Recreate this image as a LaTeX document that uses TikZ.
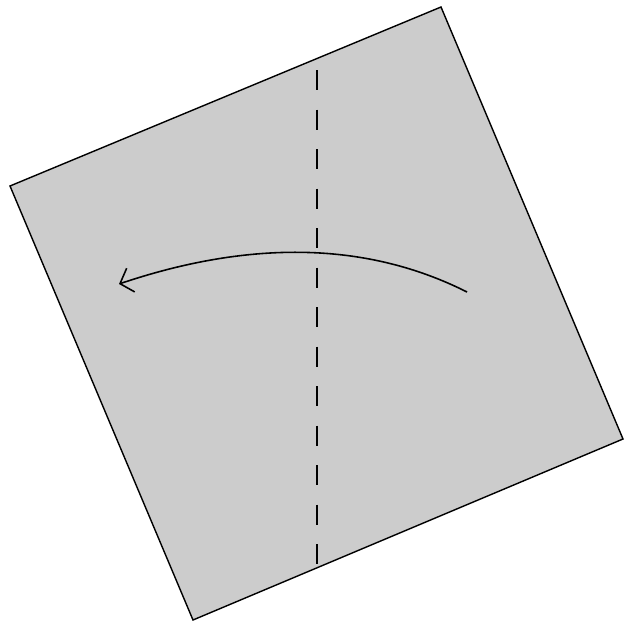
\documentclass[tikz,border=0pt]{standalone}
\usetikzlibrary{arrows.meta}
\definecolor{paper}{RGB}{204,204,204}
\begin{document}
\begin{tikzpicture}[
  x=0.04cm,y=-0.04cm,
  sheet/.style={draw,fill=paper,line width=1.6pt},
  fold/.style={line width=2.2pt,dash pattern=on 0.8cm off 0.78cm,dash phase=1.12cm},
  turn/.style={line width=1.8pt,-{Straight Barb[length=0.45cm,width=1cm]}}
]
\useasboundingbox (0,0) rectangle (625,624);
% corners of the square
\coordinate (top)    at (441,7);
\coordinate (right)  at (623,439);
\coordinate (bottom) at (193,620);
\coordinate (left)   at (10,186);
\draw[sheet] (left) -- (top) -- (right) -- (bottom) -- cycle;
% fold line
\coordinate (foldtop) at (317,58.5);
\coordinate (foldbot) at (317,567.8);
\draw[fold] (foldtop) -- (foldbot);
% turn over
\coordinate (from) at (467,292);
\coordinate (to)   at (119,284);
\draw[turn] (from) .. controls (367.7,242) and (251.7,239.3) .. (to);
\end{tikzpicture}
\end{document}
